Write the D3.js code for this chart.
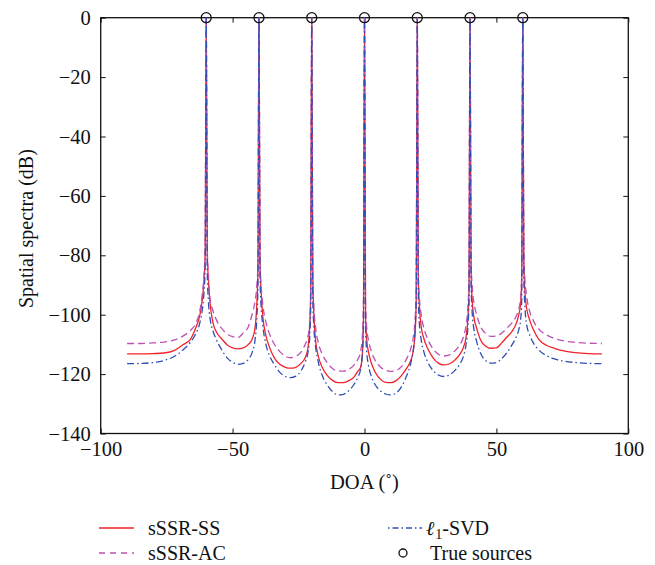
<!DOCTYPE html>
<html lang="en">
<head>
    <meta charset="UTF-8">
    <title>Spatial spectra vs DOA</title>
    <script src="https://d3js.org/d3.v7.min.js"></script>
    <style>
        body { margin: 0; background: #fff; }
        svg text { font-family: "Liberation Serif", "Times New Roman", serif; fill: #111; }
    </style>
    <script>
        // DOA grid (degrees)
        const doa = [
            -90, -85, -80, -76, -72, -69, -66, -64, -62.5, -61.5, -60.8, -60.4, -60,
            -59.6, -59.2, -58.5, -57.5, -56, -54, -52, -50, -48, -46, -44, -42.5, -41.5, -40.8, -40.4, -40,
            -39.6, -39.2, -38.5, -37.5, -36, -34, -32, -30, -28, -26, -24, -22.5, -21.5, -20.8, -20.4, -20,
            -19.6, -19.2, -18.5, -17.5, -16, -14, -12, -10, -8, -6, -4, -2.5, -1.5, -0.8, -0.4, 0,
            0.4, 0.8, 1.5, 2.5, 4, 6, 8, 10, 12, 14, 16, 17.5, 18.5, 19.2, 19.6, 20,
            20.4, 20.8, 21.5, 22.5, 24, 26, 28, 30, 32, 34, 36, 37.5, 38.5, 39.2, 39.6, 40,
            40.4, 40.8, 41.5, 42.5, 44, 46, 48, 50, 52, 54, 56, 57.5, 58.5, 59.2, 59.6, 60,
            60.4, 60.8, 61.5, 62.5, 64, 66, 69, 72, 76, 80, 85, 90
        ];

        const sssrSS = [
            -113.2, -113.2, -113.1, -112.9, -112.0, -110.2, -108.3, -104.5, -100.5, -95, -88, -79, 0,
            -79, -88, -96.5, -102.5, -106, -108.3, -110.2, -111.2, -111.5, -111.2, -110, -108, -104.5, -96, -85, 0,
            -82, -92, -101, -106.5, -111, -114.8, -116.8, -117.7, -118, -117.7, -116.3, -114.5, -111.5, -104, -92, 0,
            -88, -100, -109, -114, -117.8, -120.6, -122.2, -122.9, -122.9, -122.2, -121, -119, -117.8, -113, -102, 0,
            -100, -108, -112.5, -116, -119.3, -121.7, -122.8, -122.9, -122.2, -120.5, -118, -115.5, -112, -106, -95, 0,
            -88, -97, -104, -108, -111.5, -114.5, -116.3, -116.9, -116.6, -115.5, -113.5, -111, -107.5, -101, -92, 0,
            -85, -95, -101, -104.5, -108.5, -110.6, -111.3, -111.2, -109.5, -107.5, -105.5, -103, -100, -96, -88, 0,
            -82, -92, -98, -101.5, -105, -108.2, -110.3, -111.3, -112.3, -112.8, -113.1, -113.2
        ];

        const sssrAC = [
            -109.7, -109.7, -109.5, -109.2, -108.5, -107.3, -105.3, -103, -99, -93, -86, -78, 0,
            -78, -86, -95, -98.5, -102, -104.8, -106.5, -107.4, -107.7, -106.2, -104, -99.5, -95.5, -90, -83, 0,
            -82, -90, -97, -102, -106.5, -110.2, -112.5, -114, -114.5, -114, -112.5, -110, -107.5, -103, -94, 0,
            -88, -97, -104.5, -109.5, -113.3, -116.3, -118.2, -118.9, -119, -118.4, -117, -115, -112.5, -107, -97, 0,
            -96, -104, -108.5, -112, -115.3, -117.6, -118.7, -119.1, -118.8, -117.5, -114.8, -111.5, -107.5, -101, -92, 0,
            -86, -94, -100, -104.5, -108.3, -111.5, -113.3, -113.9, -113.6, -112.4, -110.3, -107.5, -103.5, -97, -88, 0,
            -82, -90, -96, -100, -104, -106.4, -107.3, -107.2, -106.2, -104.5, -102.7, -100.5, -98, -94, -86, 0,
            -80, -88, -94, -98.5, -102, -104.8, -106.8, -108, -108.9, -109.3, -109.6, -109.7
        ];

        const l1SVD = [
            -116.5, -116.4, -116.1, -115.4, -114, -112, -109.3, -106.5, -103, -98.5, -92, -84, 0,
            -86, -95, -101.5, -105.3, -108.7, -112, -114.6, -116, -116.7, -116.4, -115, -112.5, -108.5, -101, -91, 0,
            -88, -97, -104, -109.5, -113.8, -117, -119.5, -120.8, -121.2, -120.7, -118.8, -116, -113, -108, -98, 0,
            -95, -104, -111, -116, -120.5, -123.8, -126, -127, -126.8, -125.6, -123.5, -121, -118.5, -113, -104, 0,
            -104, -112, -117, -120.5, -123.5, -125.6, -126.7, -127, -126.4, -124.3, -120.5, -116.5, -112, -104.5, -95, 0,
            -94, -103, -108.5, -112.5, -116, -118.8, -120.3, -120.8, -120.4, -119, -116.8, -114, -110, -104, -96, 0,
            -90, -99, -105, -109, -113, -115.5, -116.3, -116.1, -114.8, -112.8, -110, -107.5, -105, -101.5, -95, 0,
            -88, -97, -103.5, -106.5, -109.5, -111.8, -113.8, -114.9, -115.7, -116.1, -116.4, -116.5
        ];

        const trueSources = [-60, -40, -20, 0, 20, 40, 60];
        const xTicks = [-100, -50, 0, 50, 100];
        const yTicks = [0, -20, -40, -60, -80, -100, -120, -140];

        document.addEventListener("DOMContentLoaded", () => makeGraph());

        function makeGraph() {
            const width = 655, height = 565;
            const plot = {left: 100.7, right: 628.3, top: 17.7, bottom: 433.5};

            const svg = d3.select("svg").attr("width", width).attr("height", height);

            const x = d3.scaleLinear().domain([-100, 100]).range([plot.left, plot.right]);
            const y = d3.scaleLinear().domain([-140, 0]).range([plot.bottom, plot.top]);

            // axes with inward ticks
            const styleAxis = g => {
                g.select(".domain").remove();
                g.selectAll("line").attr("stroke", "#111").attr("stroke-width", 1);
                g.selectAll("text").style("font-size", "20.5px").attr("fill", "#111");
            };
            svg.append("g").attr("transform", `translate(0,${plot.bottom})`)
                .call(d3.axisBottom(x).tickValues(xTicks).tickSize(-5).tickPadding(8).tickFormat(d3.format("d")))
                .call(styleAxis);
            svg.append("g").attr("transform", `translate(0,${plot.top})`)
                .call(d3.axisTop(x).tickValues(xTicks).tickSize(-5).tickFormat(""))
                .call(styleAxis);
            svg.append("g").attr("transform", `translate(${plot.left},0)`)
                .call(d3.axisLeft(y).tickValues(yTicks).tickSize(-5).tickPadding(10).tickFormat(d3.format("d")))
                .call(styleAxis);
            svg.append("g").attr("transform", `translate(${plot.right},0)`)
                .call(d3.axisRight(y).tickValues(yTicks).tickSize(-5).tickFormat(""))
                .call(styleAxis);

            svg.append("rect")
                .attr("x", plot.left).attr("y", plot.top)
                .attr("width", plot.right - plot.left).attr("height", plot.bottom - plot.top)
                .attr("fill", "none").attr("stroke", "#111").attr("stroke-width", 1.3);

            const series = [
                {name: "sSSR-SS", values: sssrSS, color: "#f2222a", dash: null},
                {name: "sSSR-AC", values: sssrAC, color: "#bb52b4", dash: "7,4"},
                {name: "l1-SVD", values: l1SVD, color: "#2e4fb3", dash: "7,3,1.5,3"}
            ];

            const line = d3.line()
                .x((d, i) => x(doa[i]))
                .y(d => y(d))
                .curve(d3.curveMonotoneX);

            series.forEach(s => {
                svg.append("path")
                    .datum(s.values)
                    .attr("d", line)
                    .attr("fill", "none")
                    .attr("stroke", s.color)
                    .attr("stroke-width", 1.3)
                    .attr("stroke-dasharray", s.dash);
            });

            svg.selectAll(".src")
                .data(trueSources)
                .enter()
                .append("circle")
                .attr("cx", d => x(d))
                .attr("cy", y(0))
                .attr("r", 5)
                .attr("fill", "none")
                .attr("stroke", "#111")
                .attr("stroke-width", 1.3);

            // axis titles
            svg.append("text")
                .attr("x", x(0)).attr("y", 489)
                .attr("text-anchor", "middle")
                .style("font-size", "20.5px")
                .text("DOA (˚)");
            svg.append("text")
                .attr("transform", `translate(33,${(plot.top + plot.bottom) / 2 + 3}) rotate(-90)`)
                .attr("text-anchor", "middle")
                .style("font-size", "20px")
                .text("Spatial spectra (dB)");

            // legend
            const legend = svg.append("g").style("font-size", "20px");
            const rows = [528, 553];
            legend.append("line").attr("x1", 99).attr("x2", 134).attr("y1", rows[0]).attr("y2", rows[0])
                .attr("stroke", series[0].color).attr("stroke-width", 1.3);
            legend.append("text").attr("x", 148).attr("y", rows[0]).attr("dy", "0.33em").text("sSSR-SS");
            legend.append("line").attr("x1", 99).attr("x2", 134).attr("y1", rows[1]).attr("y2", rows[1])
                .attr("stroke", series[1].color).attr("stroke-width", 1.3).attr("stroke-dasharray", "6,5");
            legend.append("text").attr("x", 148).attr("y", rows[1]).attr("dy", "0.33em").text("sSSR-AC");

            legend.append("line").attr("x1", 388).attr("x2", 422).attr("y1", rows[0]).attr("y2", rows[0])
                .attr("stroke", series[2].color).attr("stroke-width", 1.3).attr("stroke-dasharray", "1.5,3,6,3");
            const l1 = legend.append("text").attr("x", 426).attr("y", rows[0]).attr("dy", "0.33em");
            l1.append("tspan").style("font-style", "italic").text("ℓ");
            l1.append("tspan").attr("dy", 4).attr("dx", 1).style("font-size", "14px").text("1");
            l1.append("tspan").attr("dy", -4).text("-SVD");

            legend.append("circle").attr("cx", 403).attr("cy", rows[1]).attr("r", 4)
                .attr("fill", "none").attr("stroke", "#111").attr("stroke-width", 1.3);
            legend.append("text").attr("x", 430).attr("y", rows[1]).attr("dy", "0.33em").text("True sources");
        }
    </script>
</head>
<body>
    <svg></svg>
</body>
</html>
